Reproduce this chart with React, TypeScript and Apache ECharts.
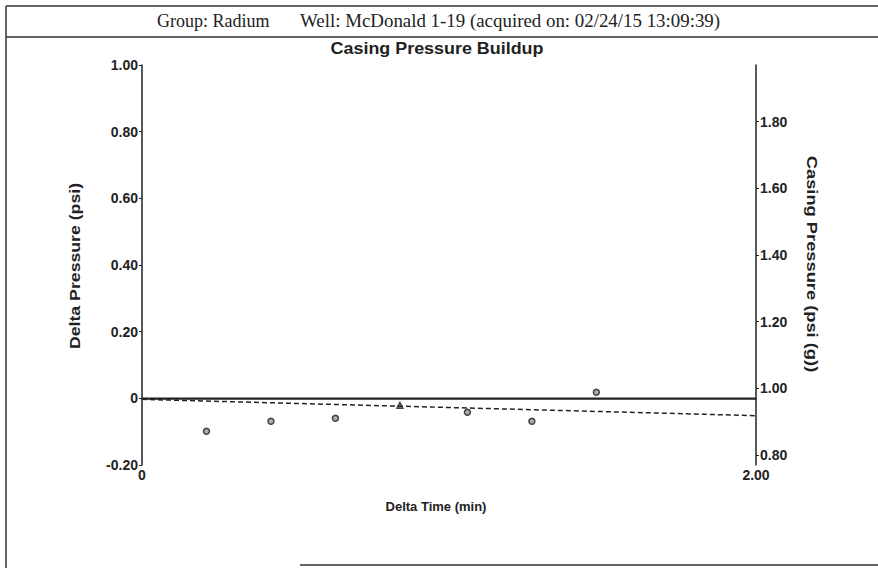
import React, { useEffect, useRef } from "react";
import * as echarts from "echarts";

const headerGroup = "Group: Radium";
const headerWell = "Well: McDonald 1-19 (acquired on: 02/24/15 13:09:39)";
const chartTitle = "Casing Pressure Buildup";
const xName = "Delta Time (min)";
const leftName = "Delta Pressure (psi)";
const rightName = "Casing Pressure (psi (g))";

const deltaTime = [0.21, 0.42, 0.63, 0.84, 1.06, 1.27, 1.48];
const deltaPressure = [-0.099, -0.069, -0.06, -0.021, -0.042, -0.069, 0.018];
const pointSymbols = ["circle", "circle", "circle", "triangle", "circle", "circle", "circle"];

const trendTime = [0, 2];
const trendPressure = [-0.003, -0.052];

const zeroTime = [0, 2];
const zeroPressure = [0, 0];

const FONT = "'Liberation Sans', Arial, sans-serif";
const SERIF = "'Liberation Serif', 'Times New Roman', serif";

export default function App() {
  const ref = useRef<HTMLDivElement>(null);
  useEffect(() => {
    if (!ref.current) return;
    const chart = echarts.init(ref.current, null, { renderer: "svg" });
    const labelStyle = { color: "#222", fontFamily: FONT, fontWeight: "bold" as const, fontSize: 14 };
    const fmt = (v: number) => (Math.abs(v) < 1e-9 ? "0" : v.toFixed(2));
    const boldText = (size: number) => `bold ${size}px ${FONT}`;
    chart.setOption({
      animation: false,
      backgroundColor: "#fff",
      graphic: [
        { type: "line", shape: { x1: 6, y1: 6, x2: 878, y2: 6 }, style: { stroke: "#333", lineWidth: 1.5 } },
        { type: "line", shape: { x1: 6, y1: 6, x2: 6, y2: 568 }, style: { stroke: "#333", lineWidth: 1.5 } },
        { type: "line", shape: { x1: 6, y1: 37, x2: 878, y2: 37 }, style: { stroke: "#333", lineWidth: 1.5 } },
        { type: "line", shape: { x1: 300, y1: 565, x2: 878, y2: 565 }, style: { stroke: "#333", lineWidth: 1.5 } },
        {
          type: "text",
          x: 157,
          y: 21,
          style: { text: headerGroup, font: `18px ${SERIF}`, fill: "#222", textVerticalAlign: "middle" },
        },
        {
          type: "text",
          x: 300,
          y: 21,
          scaleX: 1.05,
          style: { text: headerWell, font: `18px ${SERIF}`, fill: "#222", textVerticalAlign: "middle" },
        },
        {
          type: "text",
          x: 437,
          y: 49,
          scaleX: 1.12,
          style: { text: chartTitle, font: boldText(16), fill: "#222", textAlign: "center", textVerticalAlign: "middle" },
        },
        {
          type: "text",
          x: 436,
          y: 506,
          style: { text: xName, font: boldText(13), fill: "#222", textAlign: "center", textVerticalAlign: "middle" },
        },
        {
          type: "text",
          x: 75,
          y: 266,
          rotation: Math.PI / 2,
          scaleX: 1.18,
          style: { text: leftName, font: boldText(15), fill: "#222", textAlign: "center", textVerticalAlign: "middle" },
        },
        {
          type: "text",
          x: 812,
          y: 264,
          rotation: -Math.PI / 2,
          scaleX: 1.22,
          style: { text: rightName, font: boldText(15), fill: "#222", textAlign: "center", textVerticalAlign: "middle" },
        },
      ],
      grid: { left: 142, right: 122, top: 65, bottom: 103, containLabel: false },
      xAxis: {
        type: "value",
        min: 0,
        max: 2,
        interval: 2,
        axisLine: { show: true, lineStyle: { color: "#222", width: 1.5 } },
        axisTick: { show: false },
        splitLine: { show: false },
        axisLabel: { ...labelStyle, margin: 3, formatter: fmt },
      },
      yAxis: [
        {
          type: "value",
          min: -0.2,
          max: 1.0,
          interval: 0.2,
          axisLine: { show: true, lineStyle: { color: "#222", width: 1.5 } },
          axisTick: { show: true, length: 3, lineStyle: { color: "#222" } },
          splitLine: { show: false },
          axisLabel: { ...labelStyle, margin: 4, formatter: fmt },
        },
        {
          type: "value",
          position: "right",
          min: 0.77,
          max: 1.97,
          splitNumber: 6,
          axisLine: { show: true, lineStyle: { color: "#222", width: 1.5 } },
          axisTick: { show: true, length: 3, lineStyle: { color: "#222" } },
          splitLine: { show: false },
          axisLabel: {
            ...labelStyle,
            margin: 4,
            showMinLabel: false,
            showMaxLabel: false,
            formatter: (v: number) => {
              const r = Math.round(v * 10) / 10;
              return Math.abs(v * 5 - Math.round(v * 5)) < 1e-6 ? r.toFixed(2) : "";
            },
          },
        },
      ],
      series: [
        {
          type: "line",
          name: "zero",
          data: zeroTime.map((t, i) => [t, zeroPressure[i]]),
          showSymbol: false,
          lineStyle: { color: "#222", width: 1.5 },
          silent: true,
        },
        {
          type: "line",
          name: "trend",
          data: trendTime.map((t, i) => [t, trendPressure[i]]),
          showSymbol: false,
          lineStyle: { color: "#222", width: 1.5, type: [5, 3] },
          silent: true,
        },
        {
          type: "scatter",
          name: "points",
          data: deltaTime.map((t, i) => ({ value: [t, deltaPressure[i]], symbol: pointSymbols[i] })),
          symbolSize: 6,
          itemStyle: { color: "#999", borderColor: "#222", borderWidth: 1.5 },
        },
      ],
    });
    return () => chart.dispose();
  }, []);
  return <div ref={ref} style={{ position: "fixed", left: 0, top: 0, width: 878, height: 568 }} />;
}
